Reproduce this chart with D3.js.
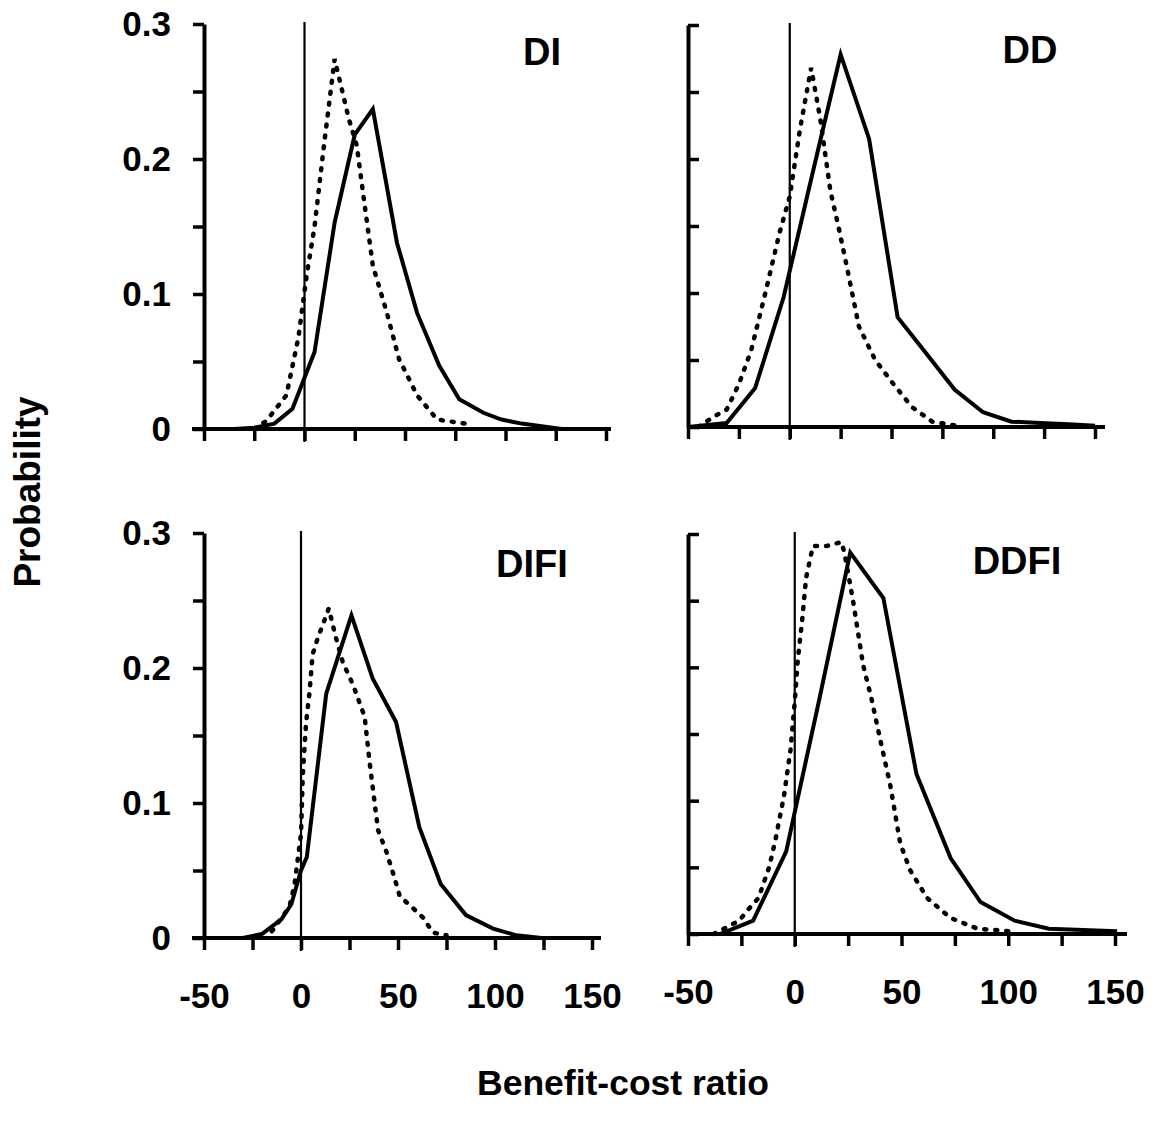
<!DOCTYPE html>
<html>
<head>
<meta charset="utf-8">
<script src="https://cdn.jsdelivr.net/npm/d3@7"></script>
<style>
    body { margin: 0; background: #fff; }
    svg text { font-family: "Liberation Sans", Arial, sans-serif; font-weight: bold; fill: #000; }
</style>
</head>
<body>
<div id="chart"></div>
<script>

// ---- data (x = benefit-cost ratio, y = probability) ----

// DI
const diSolidX = [-50, -35, -25, -15, -6, 5, 15, 25, 34, 46, 56, 67, 77, 89, 98, 108, 128, 150];
const diSolidY = [0, 0, 0.001, 0.004, 0.015, 0.057, 0.153, 0.218, 0.237, 0.138, 0.086, 0.047, 0.022, 0.012, 0.007, 0.004, 0, 0];
const diDotX = [-25, -19, -9, -3, 1, 5, 10, 15, 22, 26, 30, 34, 41, 47, 56, 66, 80];
const diDotY = [0, 0.006, 0.025, 0.068, 0.113, 0.150, 0.214, 0.274, 0.230, 0.210, 0.165, 0.121, 0.086, 0.052, 0.025, 0.007, 0.004];

// DD
const ddSolidX = [-50, -31, -17, -3, 11, 25, 39, 53, 67, 81, 95, 109, 123, 137, 150];
const ddSolidY = [0, 0.003, 0.029, 0.097, 0.188, 0.278, 0.215, 0.082, 0.055, 0.028, 0.011, 0.004, 0.003, 0.002, 0.001];
const ddDotX = [-45, -37, -31, -25, -19, -12, -5, 0, 5, 10.5, 15, 20, 24, 28, 34, 42, 51, 60, 70, 82];
const ddDotY = [0, 0.008, 0.013, 0.032, 0.057, 0.100, 0.145, 0.172, 0.222, 0.268, 0.230, 0.176, 0.149, 0.120, 0.075, 0.050, 0.032, 0.015, 0.004, 0.001];

// DIFI
const difiSolidX = [-50, -30, -20, -10, -5, 0, 3, 13, 26, 37, 49, 61, 72, 85, 99, 111, 124, 150];
const difiSolidY = [0, 0, 0.003, 0.014, 0.025, 0.050, 0.060, 0.181, 0.239, 0.192, 0.160, 0.082, 0.040, 0.017, 0.007, 0.002, 0, 0];
const difiDotX = [-15, -6, -3.4, 0, 0.9, 2.6, 4.3, 6, 8.6, 11.2, 14.3, 18.1, 21.6, 26.7, 32.8, 35.3, 39.7, 44, 48.3, 50.9, 57.8, 63, 68, 75];
const difiDotY = [0.005, 0.023, 0.039, 0.077, 0.120, 0.159, 0.181, 0.210, 0.222, 0.232, 0.244, 0.222, 0.204, 0.188, 0.164, 0.131, 0.080, 0.064, 0.044, 0.031, 0.022, 0.015, 0.004, 0.002];

// DDFI
const ddfiSolidX = [-50, -35, -19.5, -4, 11.5, 26, 41.5, 57, 73, 87, 103, 119, 135, 151];
const ddfiSolidY = [0, 0, 0.010, 0.062, 0.176, 0.286, 0.252, 0.120, 0.057, 0.024, 0.010, 0.004, 0.003, 0.002];
const ddfiDotX = [-38, -26, -22, -17, -12, -9, -5, -2, 0, 1.4, 3.5, 5.3, 8.5, 15, 21.9, 23.4, 27.4, 32, 36, 40, 44.7, 49.4, 54, 62, 73, 85.5, 101];
const ddfiDotY = [0, 0.010, 0.018, 0.027, 0.050, 0.071, 0.104, 0.138, 0.174, 0.205, 0.236, 0.267, 0.291, 0.291, 0.294, 0.285, 0.249, 0.202, 0.176, 0.146, 0.112, 0.068, 0.048, 0.027, 0.012, 0.004, 0.002];

// axes
const xTicks = [-50, -25, 0, 25, 50, 75, 100, 125, 150];
const xLabelled = [-50, 0, 50, 100, 150];
const yTicks = [0, 0.05, 0.1, 0.15, 0.2, 0.25, 0.3];
const yLabels = {0: "0", 0.1: "0.1", 0.2: "0.2", 0.3: "0.3"};

const panelNames = ["DI", "DD", "DIFI", "DDFI"];
const xAxisTitle = "Benefit-cost ratio";
const yAxisTitle = "Probability";

// ---- layout (pixels) ----
const layout = [
    {left: 204, right: 606, top: 24, bottom: 429, lineStart: 192, lineEnd: 611, side: "left", xText: false, tx: 542, ty: 65},
    {left: 688, right: 1095, top: 25, bottom: 427, lineStart: 687, lineEnd: 1105, side: "right", xText: false, tx: 1030, ty: 63},
    {left: 204, right: 592, top: 533, bottom: 938, lineStart: 192, lineEnd: 601, side: "left", xText: true, tx: 532, ty: 577},
    {left: 688, right: 1115, top: 534, bottom: 934, lineStart: 687, lineEnd: 1127, side: "right", xText: true, tx: 1017, ty: 574}
];

const series = [
    {solidX: diSolidX, solidY: diSolidY, dotX: diDotX, dotY: diDotY},
    {solidX: ddSolidX, solidY: ddSolidY, dotX: ddDotX, dotY: ddDotY},
    {solidX: difiSolidX, solidY: difiSolidY, dotX: difiDotX, dotY: difiDotY},
    {solidX: ddfiSolidX, solidY: ddfiSolidY, dotX: ddfiDotX, dotY: ddfiDotY}
];

const svg = d3.select("#chart").append("svg")
    .attr("width", 1171)
    .attr("height", 1127);

layout.forEach((L, i) => {
    let s = series[i];

    let x = d3.scaleLinear().domain([-50, 150]).range([L.left, L.right]);
    let y = d3.scaleLinear().domain([0, 0.3]).range([L.bottom, L.top]);

    let g = svg.append("g");

    // x axis (ticks only, the line is drawn below so it can overshoot)
    let xAxis = d3.axisBottom(x)
        .tickValues(xTicks)
        .tickSize(12)
        .tickPadding(33)
        .tickFormat(d => (L.xText && xLabelled.includes(d)) ? String(d) : "");

    g.append("g")
        .attr("transform", `translate(0,${L.bottom})`)
        .call(xAxis)
        .call(a => a.select(".domain").remove())
        .call(a => a.selectAll(".tick line").attr("stroke", "#000").attr("stroke-width", 3.5))
        .call(a => a.selectAll(".tick text").style("font-size", "35px").attr("fill", "#000"));

    g.append("line")
        .attr("x1", L.lineStart).attr("x2", L.lineEnd)
        .attr("y1", y(0)).attr("y2", y(0))
        .attr("stroke", "#000").attr("stroke-width", 4);

    // y axis
    let yAxis = (L.side === "left" ? d3.axisLeft(y) : d3.axisRight(y))
        .tickValues(yTicks)
        .tickSize(11)
        .tickSizeOuter(0)
        .tickPadding(22)
        .tickFormat(d => L.side === "left" && yLabels[d] !== undefined ? yLabels[d] : "");

    g.append("g")
        .attr("transform", `translate(${L.left},0)`)
        .call(yAxis)
        .call(a => a.select(".domain").attr("stroke", "#000").attr("stroke-width", 4))
        .call(a => a.selectAll(".tick line").attr("stroke", "#000").attr("stroke-width", 3.5))
        .call(a => a.selectAll(".tick text").style("font-size", "35px").attr("fill", "#000"));

    // vertical reference line at zero
    g.append("line")
        .attr("x1", x(0)).attr("x2", x(0))
        .attr("y1", y(0.3) - 2).attr("y2", y(0) + 13)
        .attr("stroke", "#000").attr("stroke-width", 2.2);

    let line = d3.line()
        .x(d => x(d[0]))
        .y(d => y(d[1]));

    // dotted series
    g.append("path")
        .datum(s.dotX.map((v, k) => [v, s.dotY[k]]))
        .attr("d", line)
        .attr("fill", "none")
        .attr("stroke", "#000")
        .attr("stroke-width", 4.5)
        .attr("stroke-linecap", "round")
        .attr("stroke-dasharray", "2,9");

    // solid series
    g.append("path")
        .datum(s.solidX.map((v, k) => [v, s.solidY[k]]))
        .attr("d", line)
        .attr("fill", "none")
        .attr("stroke", "#000")
        .attr("stroke-width", 4)
        .attr("stroke-linejoin", "miter");

    // panel title
    g.append("text")
        .attr("x", L.tx)
        .attr("y", L.ty)
        .attr("text-anchor", "middle")
        .style("font-size", "38px")
        .text(panelNames[i]);
});

// axis titles
svg.append("text")
    .attr("x", 623)
    .attr("y", 1095)
    .attr("text-anchor", "middle")
    .style("font-size", "35.5px")
    .text(xAxisTitle);

svg.append("text")
    .attr("transform", "translate(40,492) rotate(-90)")
    .attr("text-anchor", "middle")
    .style("font-size", "37px")
    .text(yAxisTitle);

</script>
</body>
</html>
